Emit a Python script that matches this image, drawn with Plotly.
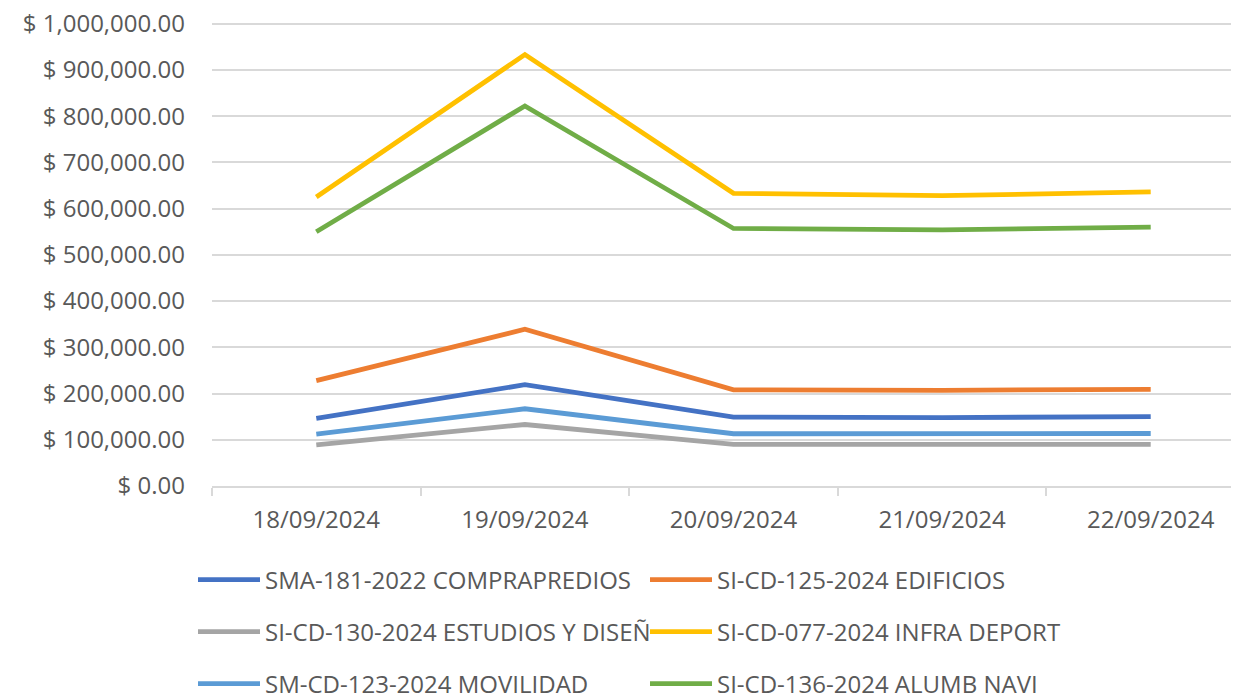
import plotly.graph_objects as go

dates = ["18/09/2024", "19/09/2024", "20/09/2024", "21/09/2024", "22/09/2024"]

sma_181_comprapredios = [146500, 219000, 149000, 148000, 150000]
si_cd_125_edificios = [228000, 339000, 208000, 207000, 209000]
si_cd_130_estudios = [89000, 133000, 90000, 90000, 90000]
si_cd_077_infra = [625000, 933000, 633000, 628000, 636000]
sm_cd_123_movilidad = [112000, 167000, 113000, 113000, 113500]
si_cd_136_alumb = [550000, 822000, 557000, 554000, 560000]

series = [
    ("SMA-181-2022 COMPRAPREDIOS", sma_181_comprapredios, "#4472C4", "legend"),
    ("SI-CD-125-2024 EDIFICIOS", si_cd_125_edificios, "#ED7D31", "legend"),
    ("SI-CD-130-2024 ESTUDIOS Y DISEÑ", si_cd_130_estudios, "#A5A5A5", "legend2"),
    ("SI-CD-077-2024 INFRA DEPORT", si_cd_077_infra, "#FFC000", "legend2"),
    ("SM-CD-123-2024 MOVILIDAD", sm_cd_123_movilidad, "#5B9BD5", "legend3"),
    ("SI-CD-136-2024 ALUMB NAVI", si_cd_136_alumb, "#70AD47", "legend3"),
]

OFF = 8  # page body margin
W, H = 1239 - OFF, 693 - OFF
L, T = 212 - OFF, 11
plot_h = 467
B = H - T - plot_h
step = 208.6
plot_w = W - L
YMAX = 1010000

fig = go.Figure()
for name, vals, color, lg in series:
    fig.add_trace(go.Scatter(
        x=dates, y=vals, name=name, mode="lines",
        line=dict(color=color, width=4.8), legend=lg,
    ))

font = dict(family="Open Sans", size=24, color="#595959")

def leg(py):
    fy = py - OFF
    return dict(
        orientation="h", x=(193 - L - OFF) / plot_w, xanchor="left",
        y=(T + plot_h - fy) / plot_h, yanchor="middle",
        entrywidth=375, entrywidthmode="pixels", itemwidth=62,
        font=font, bgcolor="rgba(0,0,0,0)", traceorder="normal",
    )

fig.update_layout(
    width=W, height=H,
    margin=dict(l=L, r=0, t=T, b=B, autoexpand=False),
    paper_bgcolor="white", plot_bgcolor="white",
    font=font,
    showlegend=True,
    legend=leg(580), legend2=leg(632), legend3=leg(684),
    xaxis=dict(
        type="category", range=[-0.5, -0.5 + plot_w / step],
        showgrid=False, showline=True, linecolor="#D9D9D9", linewidth=1.5,
        ticks="outside", tickson="boundaries", ticklen=8, tickcolor="#D9D9D9",
        tickwidth=1.5, tickfont=font, ticklabelstandoff=11,
    ),
    yaxis=dict(
        range=[0, YMAX], tick0=0, dtick=100000, tickprefix="$ ", tickformat=",.2f",
        showgrid=True, gridcolor="#D9D9D9", gridwidth=1.5, zeroline=False,
        showline=False, ticks="", tickfont=font, ticklabelstandoff=26,
        ticklabeloverflow="allow",
    ),
)

fig.write_html("out.html")
